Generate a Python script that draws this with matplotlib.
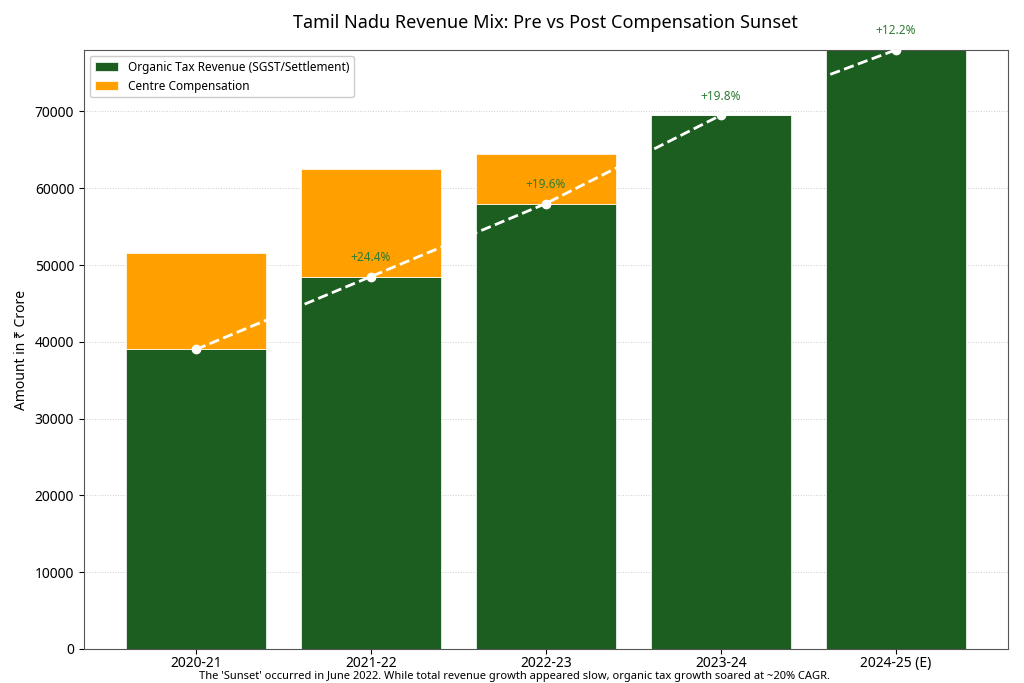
import matplotlib
matplotlib.use("Agg")
import matplotlib.pyplot as plt
import numpy as np

plt.rcParams['font.family'] = ['Noto Sans', 'DejaVu Sans']

years = ["2020-21", "2021-22", "2022-23", "2023-24", "2024-25 (E)"]
organic = [39000, 48500, 58000, 69500, 78000]
compensation = [12500, 14000, 6500, 0, 0]
growth_labels = ["", "+24.4%", "+19.6%", "+19.8%", "+12.2%"]

GREEN = "#1b5e20"
ORANGE = "#ffa000"

fig = plt.figure(figsize=(10.24, 6.83), dpi=100)
ax = fig.add_axes([0.082, 0.0498, 0.902, 0.877])

x = np.arange(len(years))
ax.bar(x, organic, width=0.8, color=GREEN, edgecolor="white", linewidth=0.5,
       label="Organic Tax Revenue (SGST/Settlement)", zorder=2)
ax.bar(x, compensation, width=0.8, bottom=organic, color=ORANGE, edgecolor="white",
       linewidth=0.5, label="Centre Compensation", zorder=2)

ax.plot(x, organic, color="white", linestyle="--", linewidth=2, marker="o",
        markersize=6, zorder=3)

for xi, val, lab in zip(x, organic, growth_labels):
    if lab:
        ax.annotate(lab, (xi, val), xytext=(0, 9), textcoords="offset points",
                    ha="center", va="bottom", fontsize=8.5, color="#2e7d32",
                    annotation_clip=False)

ax.set_xticks(x)
ax.set_xticklabels(years, fontsize=10)
ax.tick_params(axis="x", pad=1.5)
ax.tick_params(axis="y", labelsize=10)
ax.set_ylim(0, 78000)
ax.set_ylabel("Amount in ₹ Crore", fontsize=10)
ax.grid(axis="y", linestyle=":", color="#cccccc", linewidth=0.7, zorder=0)
ax.set_axisbelow(True)
for s in ax.spines.values():
    s.set_color("#555555")

ax.set_title("Tamil Nadu Revenue Mix: Pre vs Post Compensation Sunset", fontsize=13, pad=16)
ax.legend(loc="upper left", fontsize=8.5, framealpha=1, edgecolor="#cccccc")

fig.text(0.502, 0.002, "The 'Sunset' occurred in June 2022. While total revenue growth appeared slow, organic tax growth soared at ~20% CAGR.",
         ha="center", va="bottom", fontsize=8)

fig.savefig("out.png", dpi=100)
